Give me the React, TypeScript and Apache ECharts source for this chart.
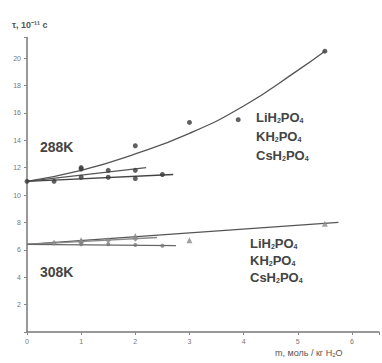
import React, { useEffect, useRef } from "react";
import * as echarts from "echarts";

// 288 K fitted curves
const li288FitM = [0, 1, 2, 3, 4, 5, 5.5];
const li288FitT = [11.0, 11.8, 13.0, 14.5, 16.5, 19.1, 20.5];
const k288FitM = [0, 2.2];
const k288FitT = [11.0, 12.0];
const cs288FitM = [0, 2.7];
const cs288FitT = [11.0, 11.5];
// 288 K points
const li288PtsM = [0, 1, 2, 3, 3.9, 5.5];
const li288PtsT = [11.0, 12.0, 13.6, 15.3, 15.5, 20.5];
const k288PtsM = [0.5, 1, 1.5, 2];
const k288PtsT = [11.0, 11.9, 11.8, 11.8];
const cs288PtsM = [1, 1.5, 2, 2.5];
const cs288PtsT = [11.3, 11.3, 11.2, 11.5];

// 308 K fitted lines
const li308FitM = [0, 5.75];
const li308FitT = [6.4, 8.0];
const k308FitM = [0, 2.4];
const k308FitT = [6.4, 6.9];
const cs308FitM = [0, 2.75];
const cs308FitT = [6.4, 6.3];
// 308 K points
const li308PtsM = [1, 2, 3, 5.5];
const li308PtsT = [6.7, 7.0, 6.7, 7.9];
const k308PtsM = [0.5, 1, 1.5, 2];
const k308PtsT = [6.5, 6.6, 6.7, 6.8];
const cs308PtsM = [1, 1.5, 2, 2.5];
const cs308PtsT = [6.4, 6.4, 6.35, 6.3];

const xTicks = [0, 1, 2, 3, 4, 5, 6];
const compounds = ["LiH", "KH", "CsH"];

const zip = (a: number[], b: number[]) => a.map((v, i) => [v, b[i]]);

const dark = "#3a3a3a";
const light = "#8a8a8a";

export default function App() {
  const ref = useRef<HTMLDivElement>(null);
  useEffect(() => {
    if (!ref.current) return;
    const chart = echarts.init(ref.current, undefined, { renderer: "svg" });
    const fitLine = (m: number[], t: number[], color: string, smooth = false) => ({
      type: "line",
      data: zip(m, t),
      showSymbol: false,
      smooth,
      lineStyle: { color, width: 1.3 },
      z: 2,
    });
    const pts = (m: number[], t: number[], color: string, symbol = "circle", size = 5) => ({
      type: "scatter",
      data: zip(m, t),
      symbol,
      symbolSize: size,
      itemStyle: { color },
      z: 3,
    });
    const rich = {
      s: { fontSize: 7, fontFamily: "Arial, Liberation Sans", fontWeight: "bold", fill: "#444", verticalAlign: "bottom", padding: [6, 0, 0, 0] },
    };
    const compoundText = (name: string, x: number, y: number) => ({
      type: "text",
      x,
      y,
      style: {
        text: `${name}{s|2}PO{s|4}`,
        rich,
        fontSize: 13,
        fontWeight: "bold",
        fontFamily: "Arial, Liberation Sans",
        fill: "#444",
      },
    });
    const option: any = {
      animation: false,
      backgroundColor: "#ffffff",
      grid: { left: 27, right: 3, top: 37.5, bottom: 31, containLabel: false },
      xAxis: {
        type: "value",
        min: 0,
        max: 6.5,
        interval: 1,
        axisLine: { lineStyle: { color: "#777", width: 1.5 } },
        axisTick: { show: true, length: 3, lineStyle: { color: "#888" } },
        axisLabel: {
          fontSize: 7,
          color: "#777",
          margin: 6,
          formatter: (v: number) => (xTicks.includes(v) ? String(v) : ""),
        },
        splitLine: { show: false },
      },
      yAxis: {
        type: "value",
        min: 0,
        max: 21.5,
        interval: 2,
        axisLine: { show: true, lineStyle: { color: "#777", width: 1.5 } },
        axisTick: { show: true, length: 3, lineStyle: { color: "#888" } },
        axisLabel: {
          fontSize: 7,
          color: "#777",
          margin: 6,
          formatter: (v: number) => (v > 0 && v % 2 === 0 && v <= 20 ? String(v) : ""),
        },
        splitLine: { show: false },
      },
      series: [
        fitLine(li288FitM, li288FitT, "#555", true),
        fitLine(k288FitM, k288FitT, "#555"),
        fitLine(cs288FitM, cs288FitT, "#444"),
        pts(li288PtsM, li288PtsT, dark),
        pts(k288PtsM, k288PtsT, dark),
        pts(cs288PtsM, cs288PtsT, dark),
        fitLine(li308FitM, li308FitT, "#555"),
        fitLine(k308FitM, k308FitT, light),
        fitLine(cs308FitM, cs308FitT, "#666"),
        pts(li308PtsM, li308PtsT, light, "triangle", 6),
        pts(k308PtsM, k308PtsT, light, "diamond", 6),
        pts(cs308PtsM, cs308PtsT, "#777", "circle", 4),
      ],
      graphic: [
        {
          type: "text",
          x: 12,
          y: 20,
          style: { text: "τ, 10⁻¹¹ с", fontSize: 9, fontWeight: "bold", fontFamily: "Arial, Liberation Sans", fill: "#555" },
        },
        {
          type: "text",
          x: 40,
          y: 140,
          style: { text: "288K", fontSize: 14, fontWeight: "bold", fontFamily: "Arial, Liberation Sans", fill: "#444" },
        },
        {
          type: "text",
          x: 40,
          y: 265,
          style: { text: "308K", fontSize: 14, fontWeight: "bold", fontFamily: "Arial, Liberation Sans", fill: "#444" },
        },
        compoundText(compounds[0], 256, 111),
        compoundText(compounds[1], 256, 130),
        compoundText(compounds[2], 256, 149),
        compoundText(compounds[0], 250, 237),
        compoundText(compounds[1], 250, 254),
        compoundText(compounds[2], 250, 271),
        {
          type: "text",
          x: 275,
          y: 347,
          style: {
            text: "m, моль / кг H{s|2}O",
            rich: { s: { fontSize: 6, fill: "#555", fontFamily: "Arial, Liberation Sans", padding: [5, 0, 0, 0] } },
            fontSize: 9,
            fontFamily: "Arial, Liberation Sans",
            fill: "#555",
          },
        },
      ],
    };
    chart.setOption(option);
    return () => chart.dispose();
  }, []);
  return <div ref={ref} style={{ width: 382, height: 363, position: "absolute", left: 0, top: 0 }} />;
}
